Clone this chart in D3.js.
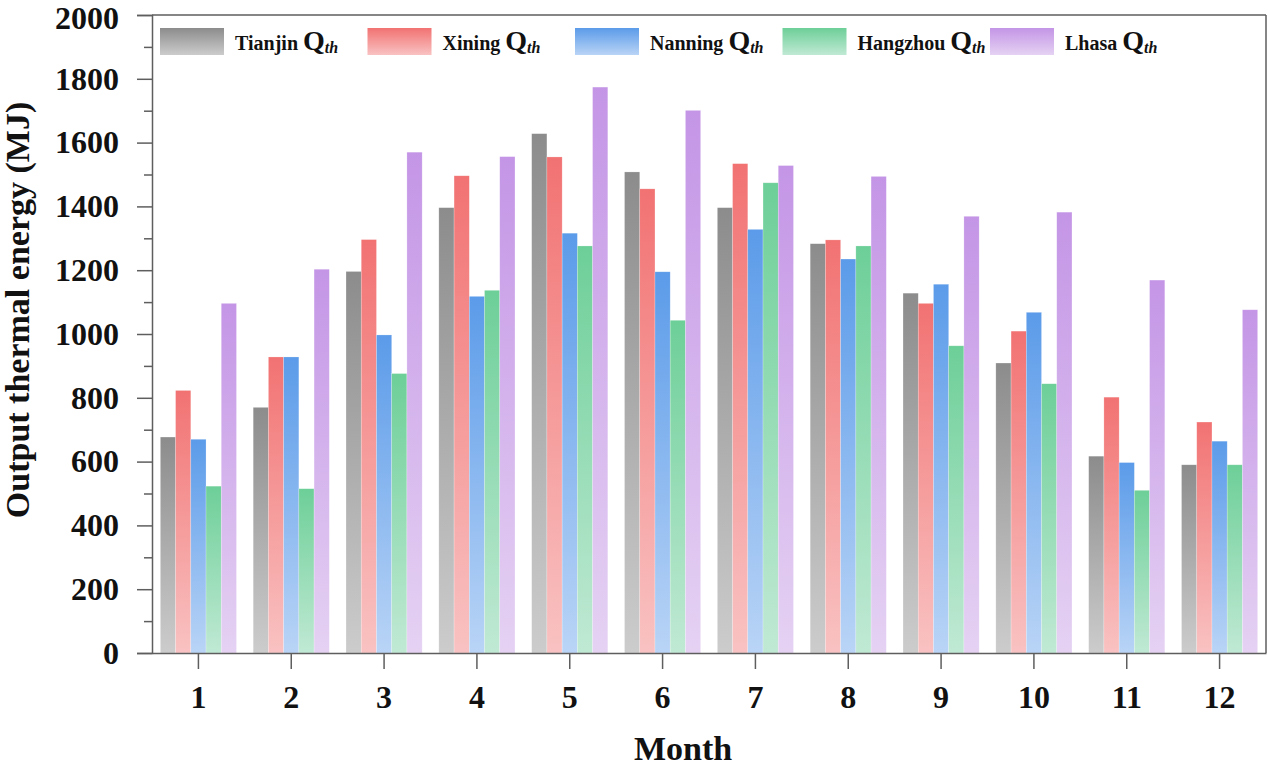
<!DOCTYPE html>
<html>
<head>
<meta charset="utf-8">
<script src="https://cdn.jsdelivr.net/npm/d3@7"></script>
<style>
  html, body { margin: 0; padding: 0; background: #fff; }
  svg { display: block; }
  text { font-family: "Liberation Serif", "Times New Roman", serif; font-weight: bold; fill: #111; }
</style>
</head>
<body>
<svg id="chart" width="1268" height="768"></svg>
<script>
// ---- Data ----
const months = [1, 2, 3, 4, 5, 6, 7, 8, 9, 10, 11, 12];
const cities = ["Tianjin", "Xining", "Nanning", "Hangzhou", "Lhasa"];
const tianjin  = [677, 770, 1196, 1396, 1628, 1508, 1396, 1283, 1128, 909, 617, 590];
const xining   = [823, 928, 1296, 1496, 1555, 1455, 1534, 1295, 1096, 1009, 802, 724];
const nanning  = [670, 928, 997, 1118, 1316, 1195, 1328, 1235, 1156, 1068, 597, 664];
const hangzhou = [523, 515, 876, 1137, 1276, 1043, 1474, 1276, 963, 844, 510, 590];
const lhasa    = [1096, 1203, 1570, 1556, 1774, 1701, 1528, 1494, 1369, 1382, 1169, 1076];
const series = [tianjin, xining, nanning, hangzhou, lhasa];
const yTicks = [0, 200, 400, 600, 800, 1000, 1200, 1400, 1600, 1800, 2000];
const yMinorTicks = [100, 300, 500, 700, 900, 1100, 1300, 1500, 1700, 1900];
const topColors    = ["#8c8c8c", "#f27272", "#5b9be9", "#6dcf98", "#c495e6"];
const bottomColors = ["#cccccc", "#f9c2c2", "#b9d4f6", "#c0e9d4", "#e5d2f3"];

// ---- Layout ----
const svg = d3.select("#chart");
const pL = 152, pR = 1266, pT = 15, pB = 653;
const axisColor = "#5e5e5e";

const x0 = d3.scaleBand().domain(months).range([pL, pR]).paddingInner(0.18).paddingOuter(0.09);
const x1 = d3.scaleBand().domain(d3.range(cities.length)).range([0, x0.bandwidth()]);
const y = d3.scaleLinear().domain([0, 2000]).range([pB, pT]);

// gradients
const defs = svg.append("defs");
cities.forEach((c, i) => {
  const g = defs.append("linearGradient").attr("id", "grad" + i)
    .attr("x1", 0).attr("y1", 0).attr("x2", 0).attr("y2", 1);
  g.append("stop").attr("offset", "0%").attr("stop-color", topColors[i]);
  g.append("stop").attr("offset", "100%").attr("stop-color", bottomColors[i]);
});

// bars
const groups = svg.append("g").selectAll("g").data(months).join("g")
  .attr("transform", d => `translate(${x0(d)},0)`);
groups.selectAll("rect")
  .data((m, mi) => series.map((s, si) => ({ si, v: s[mi] })))
  .join("rect")
  .attr("x", d => x1(d.si))
  .attr("width", x1.bandwidth())
  .attr("y", d => y(d.v))
  .attr("height", d => y(0) - y(d.v))
  .attr("fill", d => `url(#grad${d.si})`)
  .attr("stroke", "#ffffff").attr("stroke-opacity", 0.35).attr("stroke-width", 0.6);

// frame (top and right)
svg.append("line").attr("x1", pL).attr("x2", pR).attr("y1", pT).attr("y2", pT)
  .attr("stroke", axisColor).attr("stroke-width", 1.5);
svg.append("line").attr("x1", pR).attr("x2", pR).attr("y1", pT).attr("y2", pB)
  .attr("stroke", axisColor).attr("stroke-width", 1.5);

// y axis
const yAxis = svg.append("g").attr("transform", `translate(${pL},0)`)
  .call(d3.axisLeft(y).tickValues(yTicks).tickSize(15).tickPadding(18).tickFormat(d3.format("d")));
yAxis.select(".domain").attr("stroke", axisColor).attr("stroke-width", 1.5);
yAxis.selectAll(".tick line").attr("stroke", axisColor).attr("stroke-width", 1.5);
yAxis.selectAll("text").style("font-size", "32px").attr("fill", "#111")
  .attr("dy", d => d === 2000 ? "0.42em" : "0.32em");

const yMinor = svg.append("g").attr("transform", `translate(${pL},0)`)
  .call(d3.axisLeft(y).tickValues(yMinorTicks).tickSize(8).tickFormat(""));
yMinor.select(".domain").remove();
yMinor.selectAll(".tick line").attr("stroke", axisColor).attr("stroke-width", 1.5);

// x axis
const xAxis = svg.append("g").attr("transform", `translate(0,${pB})`)
  .call(d3.axisBottom(x0).tickSize(16).tickSizeOuter(0));
xAxis.select(".domain").attr("stroke", axisColor).attr("stroke-width", 1.5);
xAxis.selectAll(".tick line").attr("stroke", axisColor).attr("stroke-width", 1.5);
xAxis.selectAll("text").style("font-size", "32px").attr("fill", "#111")
  .attr("y", 55).attr("dy", 0);

// axis titles
svg.append("text")
  .attr("transform", `translate(29,310) rotate(-90)`)
  .attr("text-anchor", "middle")
  .style("font-size", "34px")
  .text("Output thermal energy (MJ)");
svg.append("text")
  .attr("x", 683).attr("y", 760)
  .attr("text-anchor", "middle")
  .style("font-size", "34px")
  .text("Month");

// legend
const legend = svg.append("g");
cities.forEach((c, i) => {
  const sx = 160 + i * 207.5;
  legend.append("rect").attr("x", sx).attr("y", 28).attr("width", 64).attr("height", 27)
    .attr("fill", `url(#grad${i})`);
  const t = legend.append("text").attr("x", sx + 75).attr("y", 50);
  t.append("tspan").style("font-size", "20px").text(c + " ");
  t.append("tspan").style("font-size", "28px").text("Q");
  t.append("tspan").style("font-size", "16px").style("font-style", "italic").attr("dy", 3).text("th");
});
</script>
</body>
</html>
